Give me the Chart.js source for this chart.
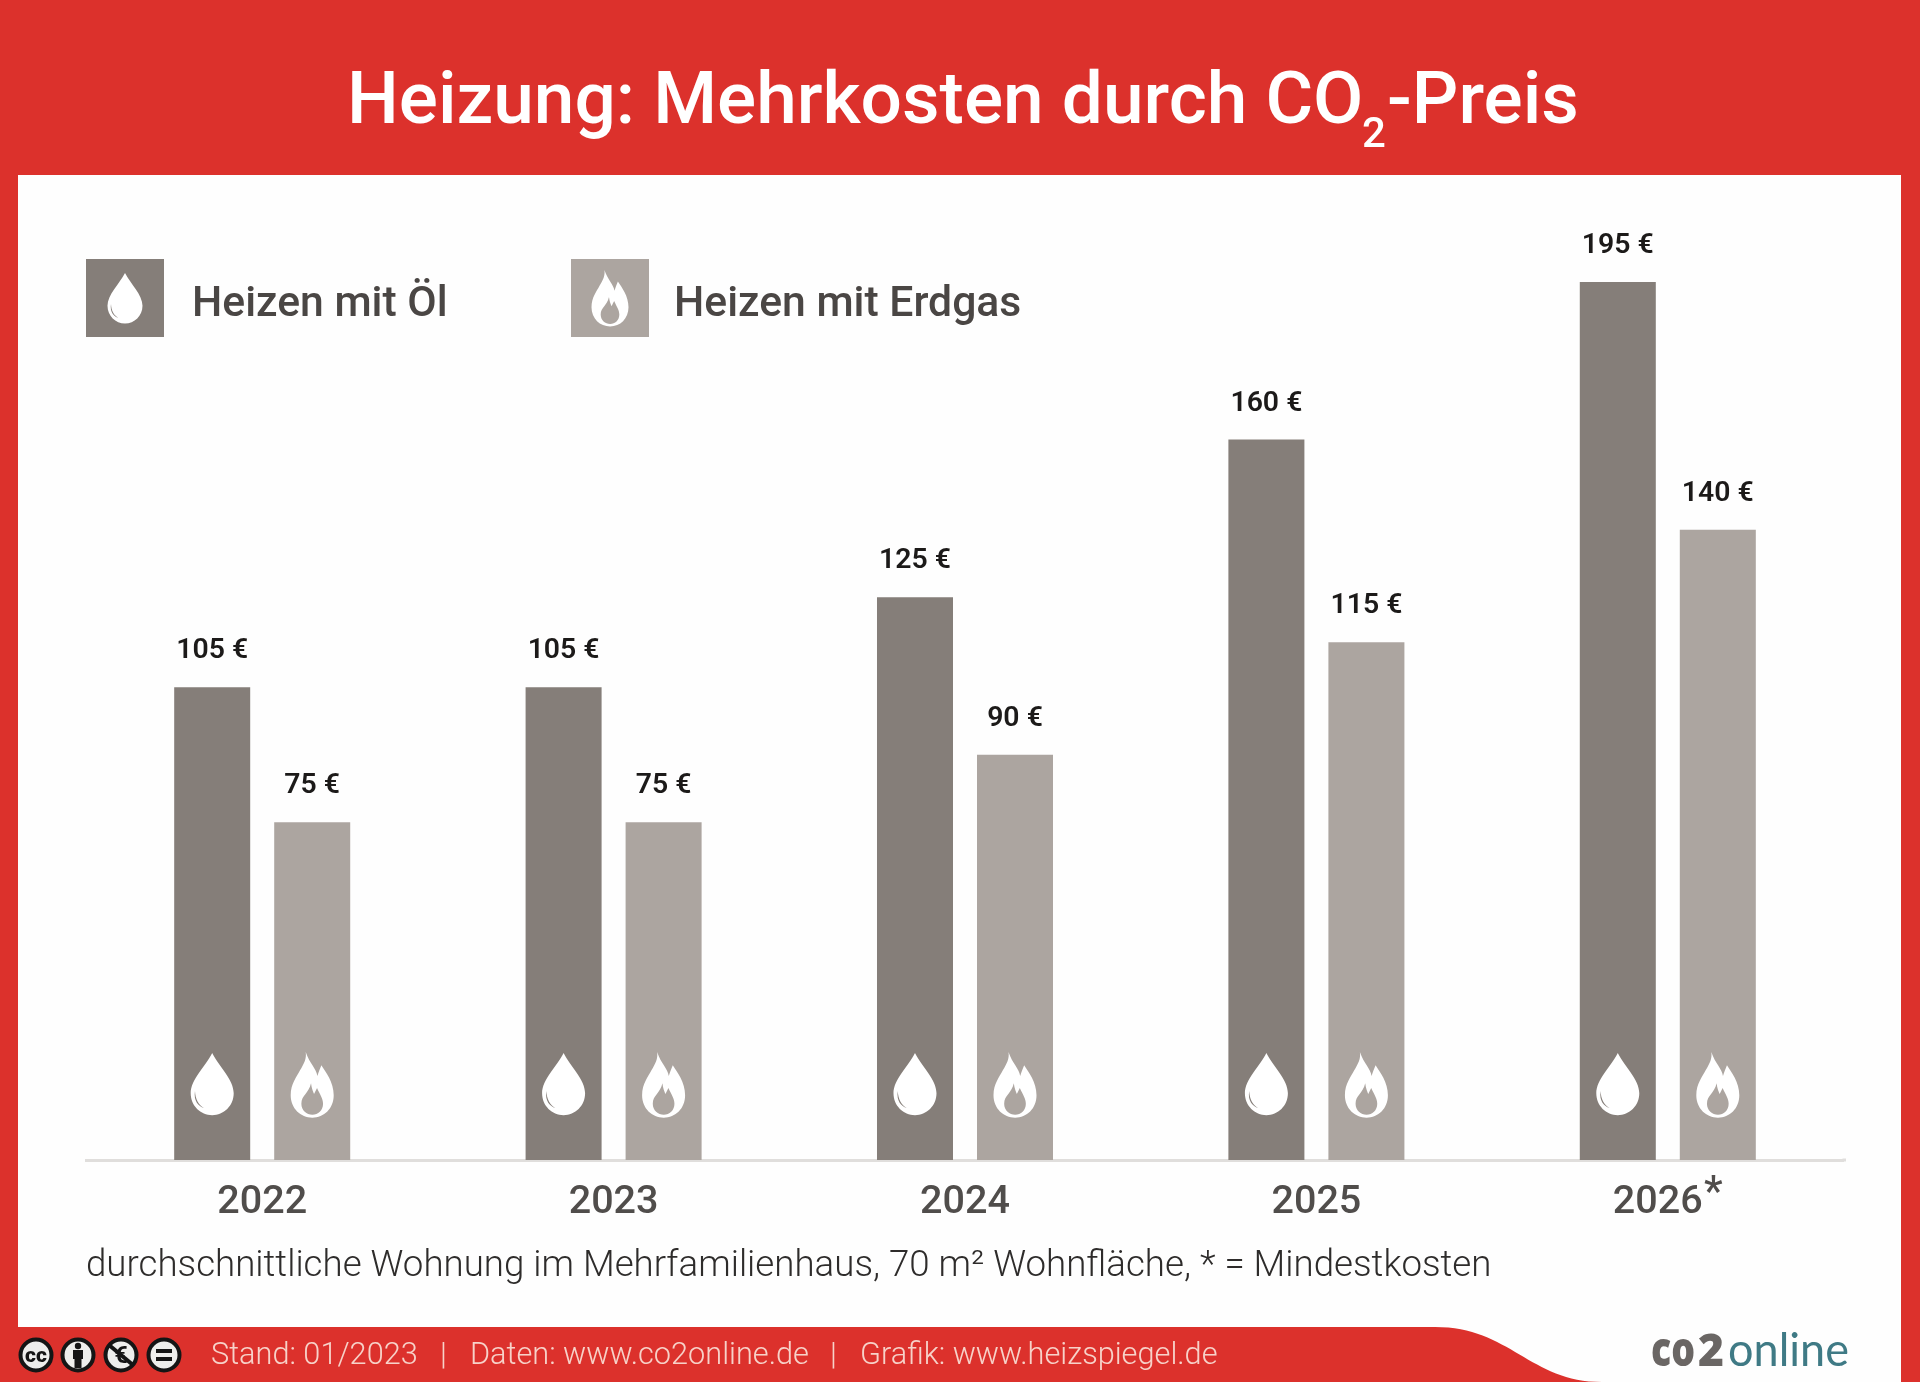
<!DOCTYPE html>
<html lang="de"><head><meta charset="utf-8">
<style>html,body{margin:0;padding:0;background:#fefefe}canvas{display:block}</style>
<script src="https://cdn.jsdelivr.net/npm/chart.js@4"></script></head>
<body><canvas id="c" width="1920" height="1382"></canvas>
<script>
const years = ["2022","2023","2024","2025","2026*"];
const oilCosts = [105,105,125,160,195];
const gasCosts = [75,75,90,115,140];
const oilLabel = "Heizen mit Öl";
const gasLabel = "Heizen mit Erdgas";
const noteText = "durchschnittliche Wohnung im Mehrfamilienhaus, 70 m² Wohnfläche, * = Mindestkosten";
const RED="#dc312c", OIL="#857e79", GAS="#aca5a0";
const DROP=new Path2D("M65,0 C85,40 130,80 130,122 C130,160 100,188 65,188 C30,188 0,160 0,122 C0,80 45,40 65,0Z");
const DROP_H=new Path2D("M13,115 C14,140 24,158 40,166 C24,162 8,145 13,115Z");
const FLAME=new Path2D("M45,0 C57,35 77,50 80,72 C84,60 88,50 92,40 C105,60 129,90 129,130 C129,170 100,197 65,197 C30,197 0,170 0,130 C0,95 18,75 28,55 C40,35 48,20 45,0Z");
const FLAME_I=new Path2D("M61,94 C63,110 66,116 70,126 C73,120 76,114 79,108 C88,128 97,140 97,155 C97,175 82,188 65,188 C48,188 32,175 32,155 C32,130 54,125 61,94Z");
function icon(ctx,kind,cx,top,w,color){
  const s=w/(kind==="drop"?130:129);
  ctx.save();ctx.translate(cx-w/2,top);ctx.scale(s,s);
  ctx.fillStyle="#ffffff";ctx.fill(kind==="drop"?DROP:FLAME);
  ctx.fillStyle=color;ctx.fill(kind==="drop"?DROP_H:FLAME_I);
  ctx.restore();
}
function text(ctx,str,x,y,font,color,align){
  ctx.font=font;ctx.fillStyle=color;ctx.textAlign=align||"left";ctx.textBaseline="alphabetic";
  ctx.fillText(str,x,y);
}
function fitText(ctx,str,x,y,w,font,color){
  ctx.save();ctx.font=font;const m=ctx.measureText(str).width;
  ctx.translate(x,y);ctx.scale(w/m,1);text(ctx,str,0,0,font,color);ctx.restore();
}
function ccIcons(ctx){
  const cy=1355,r=15.5;
  [36,78,121,164].forEach((cx,i)=>{
    ctx.beginPath();ctx.arc(cx,cy,r,0,Math.PI*2);ctx.fillStyle="#eeeeec";ctx.fill();
    ctx.lineWidth=4;ctx.strokeStyle="#151515";ctx.stroke();
    ctx.fillStyle="#151515";ctx.strokeStyle="#151515";
    if(i===0){text(ctx,"cc",cx,cy+7,"900 21px Roboto","#151515","center");}
    if(i===1){
      ctx.beginPath();ctx.arc(cx,cy-9,3.2,0,Math.PI*2);ctx.fill();
      ctx.fillRect(cx-5,cy-5,10,9);ctx.fillRect(cx-3.5,cy+3,7,10);
    }
    if(i===2){
      text(ctx,"€",cx,cy+8,"700 23px Roboto","#151515","center");
      ctx.lineWidth=4;ctx.beginPath();ctx.moveTo(cx-12,cy-10);ctx.lineTo(cx+12,cy+10);ctx.stroke();
    }
    if(i===3){ctx.fillRect(cx-8,cy-6,16,4);ctx.fillRect(cx-8,cy+2,16,4);}
  });
}
const frame={id:"frame",
  beforeDraw(c){
    const x=c.ctx;x.save();
    x.fillStyle="#fefefe";x.fillRect(0,0,1920,1382);
    x.fillStyle=RED;x.fillRect(0,0,1920,175);x.fillRect(0,0,18,1382);x.fillRect(1901,0,19,1382);
    x.beginPath();x.moveTo(0,1327);x.lineTo(1435,1327);
    x.bezierCurveTo(1510,1327,1530,1382,1602,1382);x.lineTo(0,1382);x.closePath();x.fill();
    x.restore();
  },
  beforeDatasetsDraw(c){
    const x=c.ctx,a=c.chartArea;x.save();
    x.fillStyle="#e0dedc";x.fillRect(a.right-1,a.bottom-1.5,1846-a.right+1,3);
    x.restore();
  },
  afterDraw(c){
    const x=c.ctx;x.save();
    // title
    text(x,"Heizung: Mehrkosten durch CO",347,123,"500 73px Roboto","#fff");
    text(x,"2",1362,147,"500 42px Roboto","#fff");
    text(x,"-Preis",1387,123,"500 73px Roboto","#fff");
    // legend
    const ds=c.data.datasets;
    [[86,192,"drop",35,273],[571,674,"flame",37,270]].forEach((l,i)=>{
      x.fillStyle=ds[i].backgroundColor;x.fillRect(l[0],259,78,78);
      icon(x,l[2],l[0]+39,l[4],l[3],ds[i].backgroundColor);
      text(x,ds[i].label,l[1],316,"500 42.7px Roboto","#4a4644");
    });
    // bar labels and icons
    ds.forEach((d,i)=>{
      c.getDatasetMeta(i).data.forEach((b,j)=>{
        text(x,d.data[j]+" €",b.x,b.y-29,"600 28.4px Roboto","#1c1a19","center");
        icon(x,i===0?"drop":"flame",b.x,i===0?1053:1052,43,d.backgroundColor);
      });
    });
    // asterisk on the last tick
    text(x,"*",1704,1205,"500 42px Roboto","#504d4b");
    // note
    text(x,noteText,86,1276,"300 36.67px Roboto","#2e2c2b");
    // footer
    const ff="300 30.7px Roboto",fc="#f7d2c9";
    text(x,"Stand: 01/2023",211,1364,ff,fc);
    text(x,"|",440,1364,ff,fc);
    text(x,"Daten: www.co2online.de",470,1364,ff,fc);
    text(x,"|",830,1364,ff,fc);
    text(x,"Grafik: www.heizspiegel.de",860,1364,ff,fc);
    ccIcons(x);
    // logo
    fitText(x,"co",1651,1366,44,"800 47px 'Open Sans'","#6a6664");
    fitText(x,"2",1698,1366,26,"800 45px 'Open Sans'","#6a6664");
    fitText(x,"online",1728,1366,121,"400 46px Lato","#3f7a85");
    x.restore();
  }
};
new Chart(document.getElementById("c"),{
  type:"bar",
  data:{labels:years,datasets:[
    {label:oilLabel,data:oilCosts,backgroundColor:OIL},
    {label:gasLabel,data:gasCosts,backgroundColor:GAS}]},
  plugins:[frame],
  options:{
    responsive:false,animation:false,devicePixelRatio:1,
    layout:{padding:{left:86.5,right:76.5,top:282,bottom:142}},
    datasets:{bar:{categoryPercentage:0.5692,barPercentage:0.76}},
    plugins:{legend:{display:false},tooltip:{enabled:false},title:{display:false}},
    scales:{
      y:{display:false,min:0,max:195},
      x:{
        afterFit(s){s.height=80},
        grid:{display:false,drawTicks:false},
        border:{display:true,color:"#e0dedc",width:3},
        ticks:{
          color:"#504d4b",padding:19,maxRotation:0,
          font:{family:"Roboto",size:39.5,weight:"500"},
          callback(v){return this.getLabelForValue(v).replace("*","\u2002");}
        }
      }
    }
  }
});
</script></body></html>
